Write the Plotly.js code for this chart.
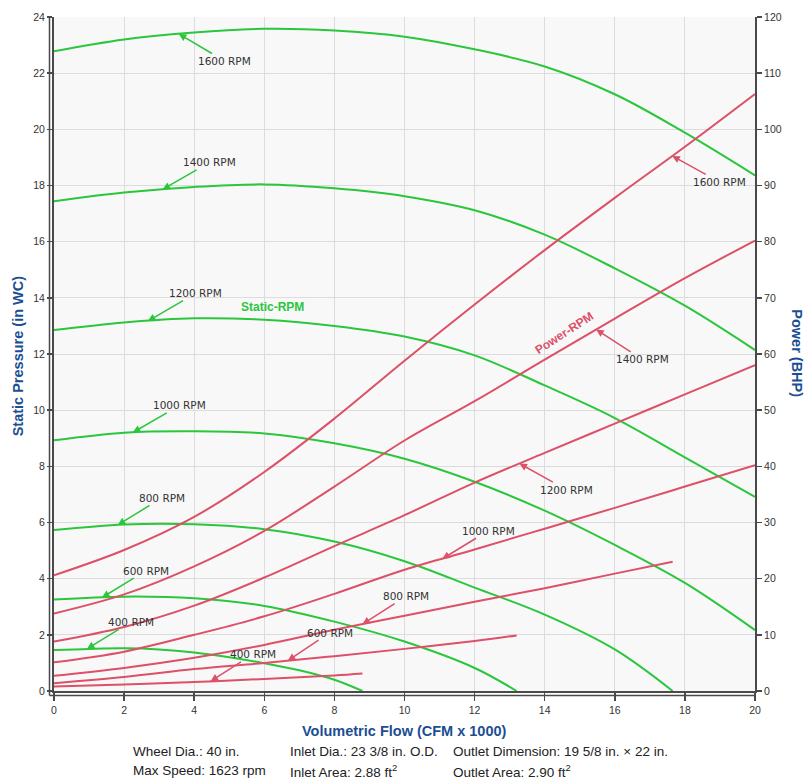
<!DOCTYPE html>
<html><head><meta charset="utf-8">
<script src="https://cdn.plot.ly/plotly-3.0.1.min.js"></script>
<style>html,body{margin:0;padding:0;background:#fff}#chart{width:804px;height:782px}</style>
</head><body><div id="chart"></div>
<script>
// ---- data ----
const flow = [0,2,4,6,8,10,12,14,16,18,20];           // CFM x 1000
const rpmNames = ['1600 RPM','1400 RPM','1200 RPM','1000 RPM','800 RPM','600 RPM','400 RPM'];

// Static pressure (in WC)
const static1600 = [22.78,23.2,23.45,23.58,23.52,23.3,22.85,22.24,21.25,19.88,18.36];
const static1400 = [17.44,17.75,17.95,18.04,17.9,17.62,17.12,16.25,15.05,13.72,12.14];
const static1200 = [12.85,13.12,13.27,13.22,13.0,12.62,11.95,10.88,9.72,8.32,6.91];
const static1000 = [8.93,9.2,9.25,9.17,8.82,8.27,7.45,6.42,5.2,3.85,2.17];
const flow800s = [0,2,4,6,8,10,12,14,16,17.65];
const static800 = [5.73,5.93,5.94,5.76,5.32,4.62,3.68,2.72,1.48,0];
const flow600s = [0,2,4,6,8,10,12,13.2];
const static600 = [3.26,3.36,3.3,3.03,2.47,1.76,0.82,0];
const flow400s = [0,1,2,3,4,5,6,7,8,8.8];
const static400 = [1.46,1.5,1.52,1.48,1.37,1.2,0.99,0.74,0.4,0];

// Power (BHP)
const power1600 = [20.6,25.1,31.0,39.0,48.5,58.8,68.8,78.5,87.8,96.9,106.3];
const power1400 = [13.8,17.2,22.2,28.5,36.4,44.6,51.6,59.0,66.3,73.5,80.2];
const power1200 = [8.8,11.4,15.2,20.2,25.8,31.3,37.1,42.4,47.6,52.8,58.0];
const power1000 = [5.1,7.0,10.0,13.3,17.3,21.6,25.2,28.9,32.6,36.4,40.2];
const flow800p = [0,2,4,6,8,10,12,14,16,17.65];
const power800 = [2.7,4.1,5.9,8.2,10.9,13.4,15.9,18.3,20.9,23.0];
const flow600p = [0,2,4,6,8,10,12,13.2];
const power600 = [1.4,2.5,3.9,5.0,6.2,7.5,8.9,9.9];
const flow400p = [0,2,4,6,8,8.8];
const power400 = [0.8,1.15,1.6,2.15,2.75,3.1];

const footerLines = [
  ['Wheel Dia.: 40 in.', 'Inlet Dia.: 23 3/8 in. O.D.', 'Outlet Dimension: 19 5/8 in. × 22 in.'],
  ['Max Speed: 1623 rpm', 'Inlet Area: 2.88 ft<sup>2</sup>', 'Outlet Area: 2.90 ft<sup>2</sup>']
];

// ---- styling ----
const GREEN = '#2ac63c';
const RED = '#dc5068';
const BLUE = '#1c4e92';

const staticSeries = [
  [flow, static1600],[flow, static1400],[flow, static1200],[flow, static1000],
  [flow800s, static800],[flow600s, static600],[flow400s, static400]
];
const powerSeries = [
  [flow, power1600],[flow, power1400],[flow, power1200],[flow, power1000],
  [flow800p, power800],[flow600p, power600],[flow400p, power400]
];

const traces = [];
staticSeries.forEach((s,i)=>traces.push({x:s[0], y:s[1], type:'scatter', mode:'lines',
  line:{color:GREEN, width:2, shape:'spline', smoothing:1}, name:'Static '+rpmNames[i], yaxis:'y', hoverinfo:'x+y'}));
powerSeries.forEach((s,i)=>traces.push({x:s[0], y:s[1], type:'scatter', mode:'lines',
  line:{color:RED, width:2, shape:'spline', smoothing:1}, name:'Power '+rpmNames[i], yaxis:'y2', hoverinfo:'x+y'}));

function interp(xs, ys, x){
  for(let i=0;i<xs.length-1;i++){
    if(x>=xs[i] && x<=xs[i+1]){ const t=(x-xs[i])/(xs[i+1]-xs[i]); return ys[i]+t*(ys[i+1]-ys[i]); }
  }
  return ys[ys.length-1];
}

const labelFont = {family:'DejaVu Sans, Verdana, sans-serif', size:10.5, color:'#333'};
// arrow head flow position and label offset (px)
const staticLabelPos = [[3.56,46,27],[3.1,47,-27],[2.68,48,-28],[2.25,47,-27],[1.82,44,-27],[1.37,44,-27],[0.94,44,-27]];
const powerLabelPos = [[17.64,47,26],[15.47,46,30],[13.28,47,26],[11.08,46,-28],[8.8,44,-28],[6.67,42,-28],[4.47,42,-27]];

const annotations = [];
staticLabelPos.forEach((p,i)=>{
  const s=staticSeries[i];
  annotations.push({x:p[0], y:interp(s[0],s[1],p[0]), xref:'x', yref:'y', text:rpmNames[i],
    showarrow:true, arrowhead:2, arrowsize:1, arrowwidth:1.5, arrowcolor:GREEN, ax:p[1], ay:p[2], font:labelFont});
});
powerLabelPos.forEach((p,i)=>{
  const s=powerSeries[i];
  annotations.push({x:p[0], y:interp(s[0],s[1],p[0]), xref:'x', yref:'y2', text:rpmNames[i],
    showarrow:true, arrowhead:2, arrowsize:1, arrowwidth:1.5, arrowcolor:RED, ax:p[1], ay:p[2], font:labelFont});
});
annotations.push({x:6.24, y:13.67, xref:'x', yref:'y', text:'<b>Static-RPM</b>', showarrow:false,
  font:{family:'Liberation Sans, Arial, sans-serif', size:12, color:GREEN}});
annotations.push({x:14.56, y:63.7, xref:'x', yref:'y2', text:'<b>Power-RPM</b>', showarrow:false, textangle:-33,
  font:{family:'Liberation Sans, Arial, sans-serif', size:12, color:RED}});

const titleFont = {family:'Liberation Sans, Arial, sans-serif', size:14.5, color:BLUE};
annotations.push({xref:'paper', yref:'paper', x:-0.0514, y:0.498, xanchor:'center', yanchor:'middle', text:'<b>Static Pressure (in WC)</b>', textangle:-90, showarrow:false, font:titleFont});
annotations.push({xref:'paper', yref:'paper', x:1.06, y:0.501, xanchor:'center', yanchor:'middle', text:'<b>Power (BHP)</b>', textangle:90, showarrow:false, font:titleFont});
annotations.push({xref:'paper', yref:'paper', x:0.5, y:-0.0593, xanchor:'center', yanchor:'middle', text:'<b>Volumetric Flow (CFM x 1000)</b>', showarrow:false, font:titleFont});

const colX = [0.1098, 0.3338, 0.5663];
const rowY = [-0.0904, -0.1186];
footerLines.forEach((row,r)=>row.forEach((t,c)=>annotations.push({xref:'paper', yref:'paper', x:colX[c], y:rowY[r],
  xanchor:'left', yanchor:'middle', text:t, showarrow:false, font:{family:'Liberation Sans, Arial, sans-serif', size:13.5, color:'#222'}})));

const axisCommon = {showline:true, linecolor:'#4a4a4a', linewidth:2, ticks:'outside', tickcolor:'#4a4a4a', tickwidth:1.5,
  tickfont:{family:'Liberation Sans, Arial, sans-serif', size:10.5, color:'#333'}, zeroline:false, fixedrange:true};

const layout = {
  width:804, height:782,
  margin:{l:54, r:49, t:17, b:91},
  paper_bgcolor:'#ffffff', plot_bgcolor:'#f8f8f8',
  showlegend:false,
  xaxis:Object.assign({}, axisCommon, {range:[0,20], dtick:2, ticklen:8, showgrid:true, gridcolor:'#dcdcdc', gridwidth:1}),
  yaxis:Object.assign({}, axisCommon, {range:[0,24], dtick:2, ticklen:5, showgrid:true, gridcolor:'#dcdcdc', gridwidth:1}),
  yaxis2:Object.assign({}, axisCommon, {range:[0,120], dtick:10, ticklen:5, overlaying:'y', side:'right', showgrid:false}),
  annotations:annotations,
  shapes:[
    {type:'line', xref:'paper', yref:'paper', x0:-4.5/701, x1:-4.5/701, y0:-4.5/674, y1:1, line:{color:'#4a4a4a', width:1.5}},
    {type:'line', xref:'paper', yref:'paper', x0:-4.5/701, x1:1, y0:-4.5/674, y1:-4.5/674, line:{color:'#4a4a4a', width:1.5}}
  ]
};

Plotly.newPlot('chart', traces, layout, {staticPlot:true, displayModeBar:false});
</script>
</body></html>
